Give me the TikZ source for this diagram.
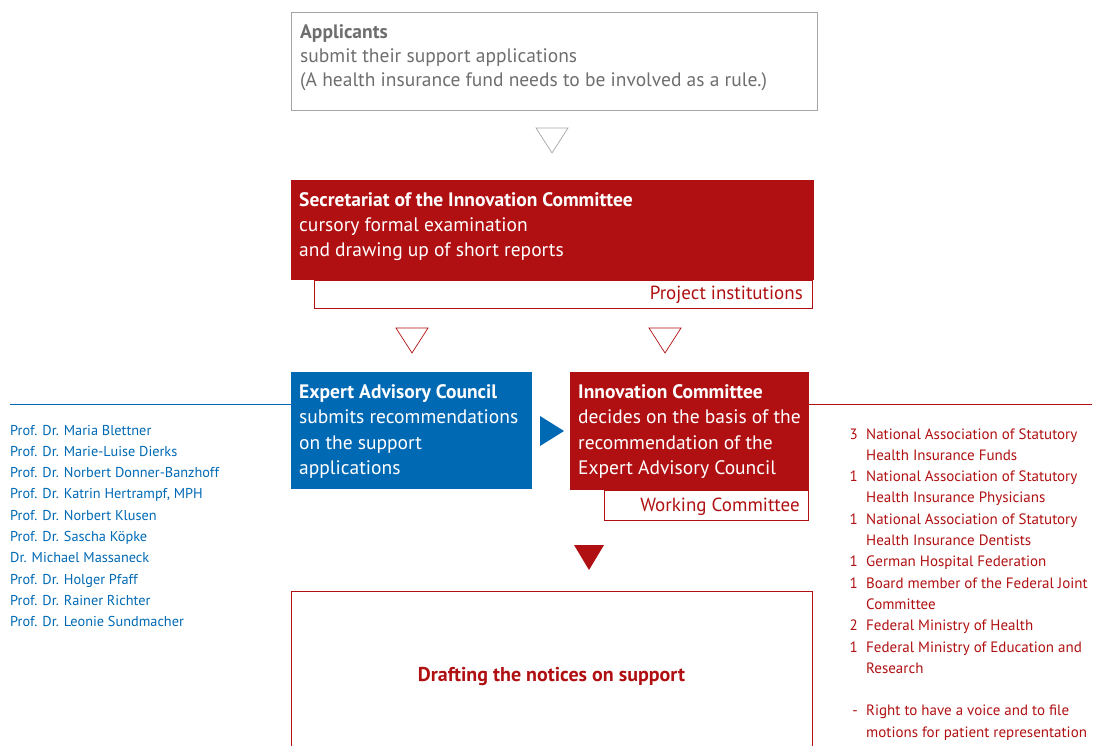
\documentclass[tikz,border=0pt]{standalone}
\usepackage{fontspec}
\setmainfont{PT Sans}
\usetikzlibrary{positioning}
\definecolor{icred}{RGB}{176,16,18}
\definecolor{icblue}{RGB}{0,105,180}
\definecolor{icgray}{RGB}{110,110,110}
\definecolor{icframe}{RGB}{165,165,165}
\tikzset{
  box/.style={anchor=north west, inner sep=0pt, outer sep=0pt, line width=0.8pt},
  boxtext/.style={anchor=north west, inner sep=0pt, align=left, font=\fontsize{19.5}{25.5}\selectfont},
  tagtext/.style={anchor=base east, inner sep=0pt, text=icred, font=\fontsize{19}{25}\selectfont},
  listtext/.style={anchor=base west, inner sep=0pt, align=left, font=\fontsize{14.3}{21.3}\selectfont},
  seattext/.style={anchor=north west, inner sep=0pt, align=left, text=icred, font=\fontsize{15}{21.3}\selectfont},
  hollowtri/.style={draw=#1, line width=0.7pt},
  solidtri/.style={fill=#1, draw=none}
}
\begin{document}
\begin{tikzpicture}[x=1pt, y=-1pt]
    \useasboundingbox (0,0) rectangle (1104,746);
    \node (app) at (291,12) [box, draw=icframe, minimum width=526pt, minimum height=98pt] {};
    \node (apptxt) at (300,24) [boxtext, text=icgray, font=\fontsize{19.5}{24}\selectfont] {\textbf{Applicants}\\submit their support applications\\(A health insurance fund needs to be involved as a rule.)};
    \draw[hollowtri=icframe] (536,128) -- (568,128) -- (552,153) -- cycle;
    \node (proj) at (314,280) [box, draw=icred, minimum width=498pt, minimum height=28pt] {};
    \node (sec) at (291,180) [box, fill=icred, minimum width=523pt, minimum height=100pt] {};
    \node (sectxt) at (299,192) [boxtext, text=white, font=\fontsize{19.5}{25.2}\selectfont] {\textbf{Secretariat of the Innovation Committee}\\cursory formal examination\\and drawing up of short reports};
    \node (projtxt) at (803,300) [tagtext] {Project institutions};
    \draw[hollowtri=icred] (396,328) -- (428,328) -- (412,353) -- cycle;
    \draw[hollowtri=icred] (649,328) -- (681,328) -- (665,353) -- cycle;
    \node (eac) at (291,372) [box, fill=icblue, minimum width=241pt, minimum height=117pt] {};
    \node (eactxt) at (299,384) [boxtext, text=white] {\textbf{Expert Advisory Council}\\submits recommendations\\on the support\\applications};
    \draw[solidtri=icblue] (540,416) -- (564,431) -- (540,446) -- cycle;
    \node (wc) at (604,490) [box, draw=icred, minimum width=204pt, minimum height=30pt] {};
    \node (ic) at (570,372) [box, fill=icred, minimum width=239pt, minimum height=118pt] {};
    \node (ictxt) at (578,384) [boxtext, text=white] {\textbf{Innovation Committee}\\decides on the basis of the\\recommendation of the\\Expert Advisory Council};
    \node (wctxt) at (800,511) [tagtext] {Working Committee};
    \coordinate (blueend) at (10,404);
    \coordinate (redend) at (1092,404);
    \draw[icblue, line width=0.8pt] (blueend) -- (blueend -| eac.west);
    \draw[icred, line width=0.8pt] (redend -| ic.east) -- (redend);
    \foreach \name [count=\i] in {Prof. Dr. Maria Blettner, Prof. Dr. Marie-Luise Dierks,
        Prof. Dr. Norbert Donner-Banzhoff, {Prof. Dr. Katrin Hertrampf, MPH},
        Prof. Dr. Norbert Klusen, Prof. Dr. Sascha Köpke, Dr. Michael Massaneck,
        Prof. Dr. Holger Pfaff, Prof. Dr. Rainer Richter, Prof. Dr. Leonie Sundmacher}
    {
        \node (member\i) at (10,435+21.3*\i-21.3) [listtext, text=icblue] {\name};
    }
    \foreach \num/\seat/\row [count=\i] in {
        3/{National Association of Statutory\\Health Insurance Funds}/0,
        1/{National Association of Statutory\\Health Insurance Physicians}/2,
        1/{National Association of Statutory\\Health Insurance Dentists}/4,
        1/{German Hospital Federation}/6,
        1/{Board member of the Federal Joint\\Committee}/7,
        2/{Federal Ministry of Health}/9,
        1/{Federal Ministry of Education and\\Research}/10,
        -/{Right to have a voice and to file\\motions for patient representation}/13}
    {
        \node (seatno\i) at (858,439+21.3*\row) [seattext, anchor=base east] {\num};
        \node (seat\i) at (866,428.2+21.3*\row) [seattext] {\seat};
    }
    \draw[solidtri=icred] (574,545) -- (604,545) -- (589,570) -- cycle;
    \begin{scope}
        \clip (0,0) rectangle (1104,746);
        \node (draft) at (291,591) [box, draw=icred, minimum width=521pt, minimum height=166pt] {};
    \end{scope}
    \node (drafttxt) at (draft.center) [yshift=-3pt, inner sep=0pt, text=icred, font=\fontsize{20}{25}\selectfont\bfseries] {Drafting the notices on support};
\end{tikzpicture}
\end{document}
